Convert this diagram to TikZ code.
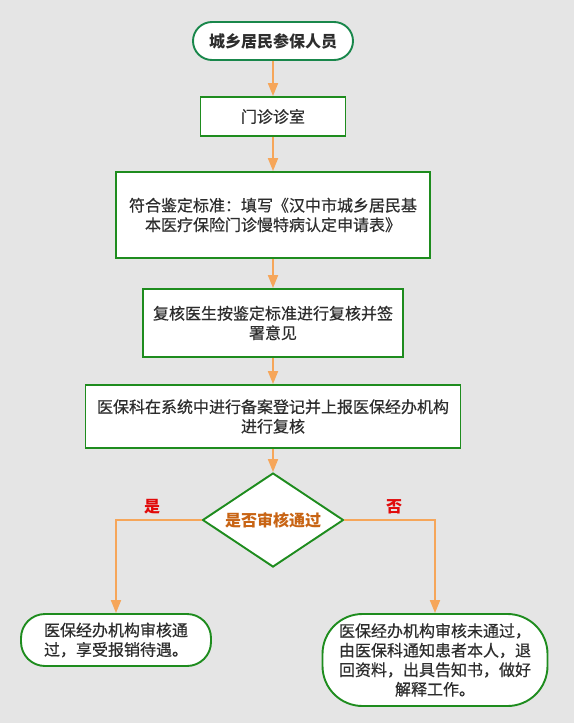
\documentclass[tikz,border=0pt]{standalone}
\usepackage{fontspec}
\setmainfont{Noto Sans CJK SC}[UprightFeatures={FakeBold=0.5}]
\usetikzlibrary{arrows.meta,shapes.geometric}
\definecolor{bg}{RGB}{229,229,229}
\definecolor{gbox}{RGB}{30,140,30}
\definecolor{gtop}{RGB}{25,135,75}
\definecolor{arr}{RGB}{246,166,90}
\definecolor{txt}{RGB}{45,45,45}
\definecolor{dtxt}{RGB}{200,100,20}
\definecolor{lbl}{RGB}{225,10,10}
\begin{document}
\begin{tikzpicture}[x=1pt,y=-1pt,
  box/.style={draw=gbox,line width=1.9pt,fill=white,inner sep=0pt,align=center,text=txt,font=\fontsize{16}{19.5}\selectfont},
  conn/.style={draw=arr,line width=1.8pt,-{Triangle[length=13pt,width=10pt]}},
  lab/.style={text=lbl,font=\fontsize{16}{19.5}\selectfont\bfseries}]
\fill[bg] (0,0) rectangle (574,723);
\useasboundingbox (0,0) rectangle (574,723);
\node[box,draw=gtop,rounded corners=19pt,minimum width=160pt,minimum height=38pt,font=\fontsize{16}{19.5}\selectfont\bfseries] (n1) at (273,41) {城乡居民参保人员};
\node[box,minimum width=145pt,minimum height=39pt] (n2) at (273,116.5) {门诊诊室};
\node[box,minimum width=314pt,minimum height=86pt] (n3) at (273,215) {符合鉴定标准：填写《汉中市城乡居民基\\本医疗保险门诊慢特病认定申请表》};
\node[box,minimum width=260pt,minimum height=68pt] (n4) at (273,323) {复核医生按鉴定标准进行复核并签\\署意见};
\node[box,minimum width=375pt,minimum height=63pt] (n5) at (273,416.5) {医保科在系统中进行备案登记并上报医保经办机构\\进行复核};
\node[box,shape=diamond,minimum width=141pt,minimum height=94pt,text=dtxt,font=\fontsize{16}{19.5}\selectfont\bfseries] (d) at (273,520) {\makebox[0pt]{是否审核通过}};
\node[box,rounded corners=24pt,minimum width=190pt,minimum height=52pt] (yes) at (116,640) {医保经办机构审核通\\过，享受报销待遇。};
\node[box,rounded corners=40pt,minimum width=225pt,minimum height=92pt] (no) at (435,660) {医保经办机构审核未通过，\\由医保科通知患者本人，退\\回资料，出具告知书，做好\\解释工作。};
\node[lab] (ly) at (152,507) {是};
\node[lab] (ln) at (394,507) {否};
\draw[conn] (n1.south) -- (n2.north);
\draw[conn] (n2.south) -- (n3.north);
\draw[conn] (n3.south) -- (n4.north);
\draw[conn] (n4.south) -- (n5.north);
\draw[conn] (n5.south) -- (d.north);
\draw[conn] (d.west) -| (yes.north);
\draw[conn] (d.east) -| (no.north);
\end{tikzpicture}
\end{document}
